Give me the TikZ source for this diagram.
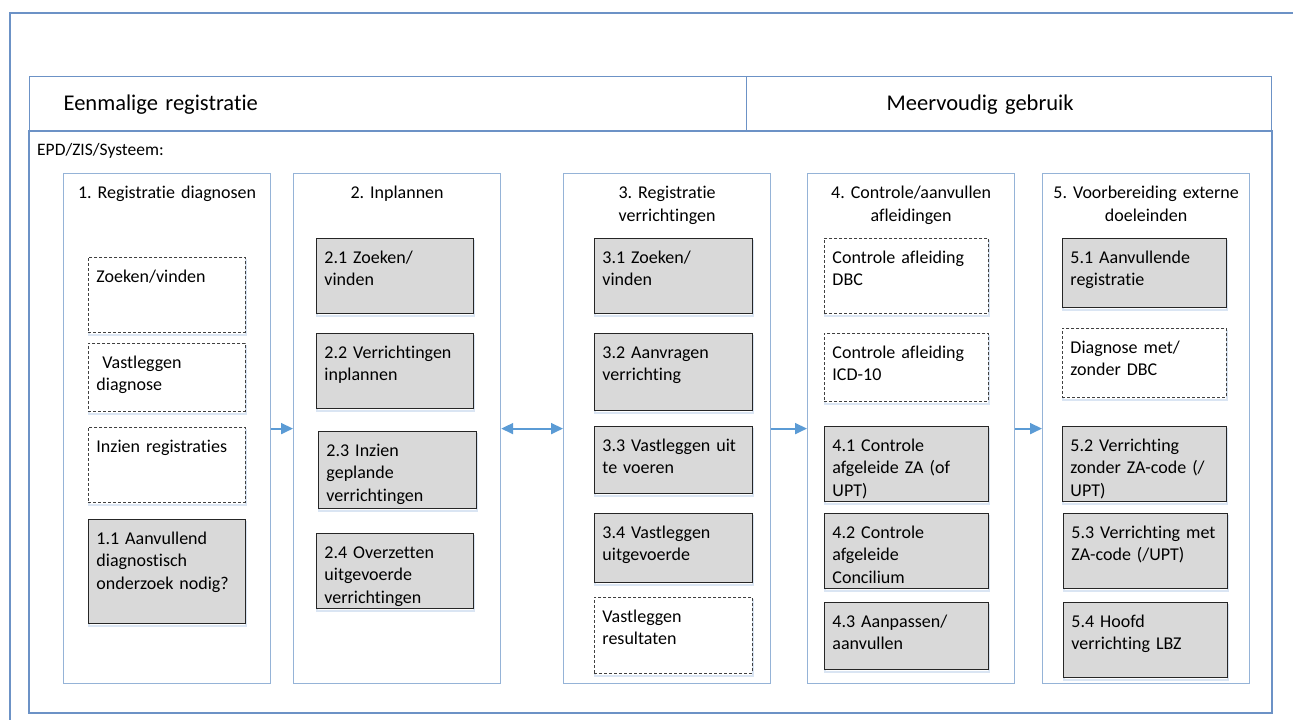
\documentclass[tikz,border=0pt]{standalone}
\usepackage{fontspec}
\setmainfont{Carlito}[Ligatures=NoCommon]
\frenchspacing
\usetikzlibrary{arrows.meta}
\definecolor{framecol}{RGB}{108,146,198}
\definecolor{lanecol}{RGB}{149,179,215}
\definecolor{flowcol}{RGB}{91,155,213}
\definecolor{taskgrey}{RGB}{217,217,217}
\definecolor{shadowblue}{RGB}{218,229,243}
\tikzset{
  frame/.style={draw=framecol, line width=1.4pt},
  head/.style={frame, anchor=north west, minimum height=55pt, align=left, font=\fontsize{22.5}{27}\selectfont},
  lane/.style={draw=lanecol, line width=1.2pt, anchor=north west, inner xsep=4pt, inner ysep=8pt,
    text width=199pt, text height=17pt, text depth=477pt, align=center},
  task/.style 2 args={draw=black!85, fill=taskgrey, line width=0.9pt, anchor=north west, inner sep=8pt,
    text width=#1, text height=17pt, text depth=#2, align=left,
    preaction={draw=shadowblue, solid, line width=2pt, transform canvas={xshift=1pt,yshift=-2.5pt}}},
  open/.style 2 args={task={#1}{#2}, fill=white, draw=black!75, dash pattern=on 3pt off 2pt},
  flow/.style={draw=flowcol, line width=1.8pt, -{Triangle[length=12pt,width=11pt]}},
}
\begin{document}
\begin{tikzpicture}[x=1pt, y=-1pt, font=\fontsize{18}{22.5}\selectfont]
	\useasboundingbox (0,0) rectangle (1293,720);
	% frames
	\draw[frame] (1293,13) -- (10,13) -- (10,720);
	\draw[frame] (29,131) rectangle (1272,713);
	\node[head, minimum width=717pt, text width=649pt, inner xsep=34pt] (once) at (29,76) {Eenmalige registratie};
	\node[head, minimum width=525pt, text width=245pt, inner xsep=140pt] (multi) at (746,76) {Meervoudig gebruik};
	\node[anchor=base west, inner sep=0pt, font=\fontsize{17.5}{21}\selectfont] (sys) at (37,155) {EPD/ZIS/Systeem:};
	%
	\node[lane] (c1) at (63,173) {1. Registratie diagnosen};
	\node[lane] (c2) at (293,173) {2. Inplannen};
	\node[lane] (c3) at (563,173) {3. Registratie\\verrichtingen};
	\node[lane] (c4) at (807,173) {4. Controle/aanvullen\\afleidingen};
	\node[lane] (c5) at (1042,173) {5. Voorbereiding externe\\doeleinden};
	%
	\node[open={141pt}{42pt}] (r1) at (88,257) {Zoeken/vinden};
	\node[open={141pt}{35pt}] (r2) at (88,343) {\ Vastleggen\\diagnose};
	\node[open={141pt}{42pt}] (r3) at (88,427) {Inzien registraties};
	\node[task={141pt}{71pt}] (r4) at (88,519) {1.1 Aanvullend\\diagnostisch\\onderzoek nodig?};
	%
	\node[task={141pt}{42pt}] (p1) at (316,238) {2.1 Zoeken/\\vinden};
	\node[task={141pt}{42pt}] (p2) at (316,333) {2.2 Verrichtingen\\inplannen};
	\node[task={142pt}{44pt}] (p3) at (318,431) {2.3 Inzien\\geplande\\verrichtingen};
	\node[task={141pt}{42pt}] (p4) at (316,533) {2.4 Overzetten\\uitgevoerde\\verrichtingen};
	%
	\node[task={142pt}{42pt}] (v1) at (594,238) {3.1 Zoeken/\\vinden};
	\node[task={142pt}{44pt}] (v2) at (594,333) {3.2 Aanvragen\\verrichting};
	\node[task={142pt}{34pt}] (v3) at (594,426) {3.3 Vastleggen uit\\te voeren};
	\node[task={142pt}{36pt}] (v4) at (594,513) {3.4 Vastleggen\\uitgevoerde};
	\node[open={142pt}{43pt}] (v5) at (594,597) {Vastleggen\\resultaten};
	%
	\node[open={148pt}{42pt}] (a1) at (824,238) {Controle afleiding\\DBC};
	\node[open={148pt}{35pt}] (a2) at (824,333) {Controle afleiding\\ICD-10};
	\node[task={148pt}{42pt}] (a3) at (824,426) {4.1 Controle\\afgeleide ZA (of\\UPT)};
	\node[task={148pt}{42pt}] (a4) at (824,513) {4.2 Controle\\afgeleide\\Concilium};
	\node[task={148pt}{34pt}] (a5) at (824,602) {4.3 Aanpassen/\\aanvullen};
	%
	\node[task={148pt}{36pt}] (e1) at (1062,238) {5.1 Aanvullende\\registratie};
	\node[open={148pt}{36pt}] (e2) at (1062,328) {Diagnose met/\\zonder DBC};
	\node[task={148pt}{42pt}] (e3) at (1062,426) {5.2 Verrichting\\zonder ZA-code (/\\UPT)};
	\node[task={148pt}{42pt}] (e4) at (1063,513) {5.3 Verrichting met\\ZA-code (/UPT)};
	\node[task={148pt}{42pt}] (e5) at (1063,602) {5.4 Hoofd\\verrichting LBZ};
	%
	\draw[flow] (c1) -- (c2);
	\draw[flow, {Triangle[length=12pt,width=11pt]}-{Triangle[length=12pt,width=11pt]}] (c2) -- (c3);
	\draw[flow] (c3) -- (c4);
	\draw[flow] (c4) -- (c5);
\end{tikzpicture}
\end{document}
